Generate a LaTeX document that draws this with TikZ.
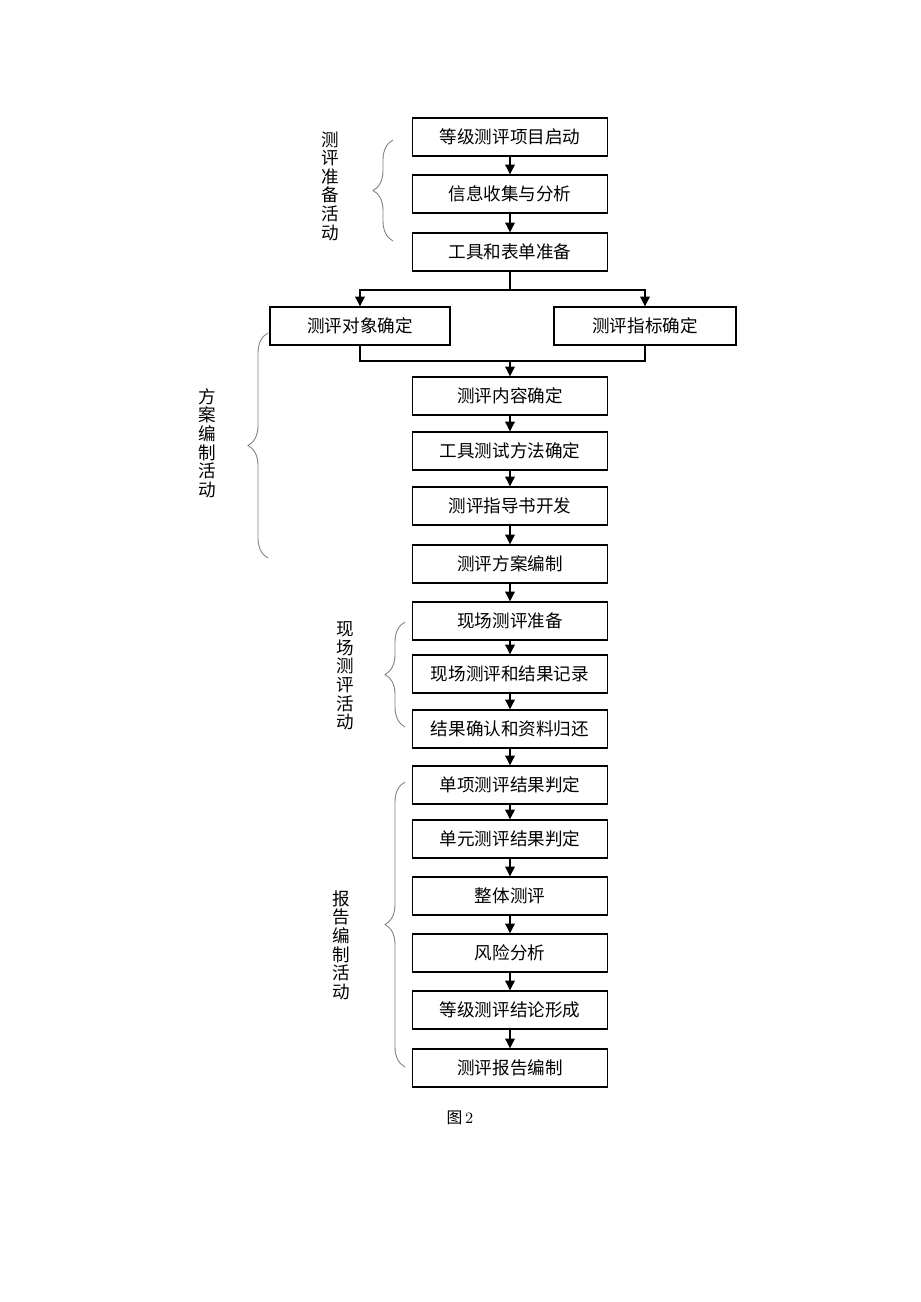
\documentclass[tikz,border=0pt]{standalone}
\usepackage{fontspec}
\setmainfont{Noto Sans CJK SC}
\usetikzlibrary{decorations.pathreplacing,arrows.meta}
\tikzset{>={Triangle[length=5.5pt,width=5.5pt]}}

\begin{document}
\begin{tikzpicture}[x=0.02cm, y=-0.02cm, line width=0.6pt,
  box/.style={draw, line width=0.8pt, minimum width=3.9cm, minimum height=0.76cm, inner sep=0pt, font=\fontsize{10}{12}\selectfont},
  brc/.style={draw=gray, line width=0.5pt, decorate, decoration={brace, amplitude=0.4cm}},
  lbl/.style={align=center, inner sep=0pt, font=\fontsize{10}{10.6}\selectfont}]
\useasboundingbox (0,0) rectangle (920,1302);
% preparation
\node[box] (qd) at (510,137) {等级测评项目启动};
\node[box] (xx) at (510,194) {信息收集与分析};
\node[box] (gj) at (510,252) {工具和表单准备};
% plan
\node[box, minimum width=3.6cm] (dx) at (360,326) {测评对象确定};
\node[box, minimum width=3.64cm] (zb) at (645,326) {测评指标确定};
\node[box] (nr) at (510,396) {测评内容确定};
\node[box] (ff) at (510,451) {工具测试方法确定};
\node[box] (zd) at (510,506) {测评指导书开发};
\node[box] (fa) at (510,564) {测评方案编制};
% on site
\node[box] (zb1) at (510,621) {现场测评准备};
\node[box] (jl) at (510,674) {现场测评和结果记录};
\node[box] (qr) at (510,729) {结果确认和资料归还};
% report
\node[box] (dx1) at (510,785) {单项测评结果判定};
\node[box] (dy) at (510,839) {单元测评结果判定};
\node[box] (zt) at (510,896) {整体测评};
\node[box] (fx) at (510,953) {风险分析};
\node[box] (jlx) at (510,1010) {等级测评结论形成};
\node[box] (bg) at (510,1068) {测评报告编制};
\node (cap) at (460,1118) {\fontsize{9}{10}\selectfont 图\,{\rmfamily\fontspec{Latin Modern Roman}2}};

\draw[->] (qd) -- (xx);
\draw[->] (xx) -- (gj);
\coordinate (fk) at (510,290);
\coordinate (hb) at (510,361);
\draw (gj.south) -- (fk);
\draw[->] (fk) -| (dx.north);
\draw[->] (fk) -| (zb.north);
\draw (dx.south) |- (hb) -| (zb.south);
\draw[->] (hb) -- (nr);
\draw[->] (nr) -- (ff);
\draw[->] (ff) -- (zd);
\draw[->] (zd) -- (fa);
\draw[->] (fa) -- (zb1);
\draw[->] (zb1) -- (jl);
\draw[->] (jl) -- (qr);
\draw[->] (qr) -- (dx1);
\draw[->] (dx1) -- (dy);
\draw[->] (dy) -- (zt);
\draw[->] (zt) -- (fx);
\draw[->] (fx) -- (jlx);
\draw[->] (jlx) -- (bg);

% braces and stage labels
\draw[brc] (393,241) -- (393,140);
\node[lbl] (s1) at (330,186) {测\\评\\准\\备\\活\\动};
\draw[brc] (268,558) -- (268,333);
\node[lbl] (s2) at (207,443) {方\\案\\编\\制\\活\\动};
\draw[brc] (405,727) -- (405,622);
\node[lbl] (s3) at (345,676) {现\\场\\测\\评\\活\\动};
\draw[brc] (405,1067) -- (405,782);
\node[lbl] (s4) at (341,945) {报\\告\\编\\制\\活\\动};
\end{tikzpicture}
\end{document}
